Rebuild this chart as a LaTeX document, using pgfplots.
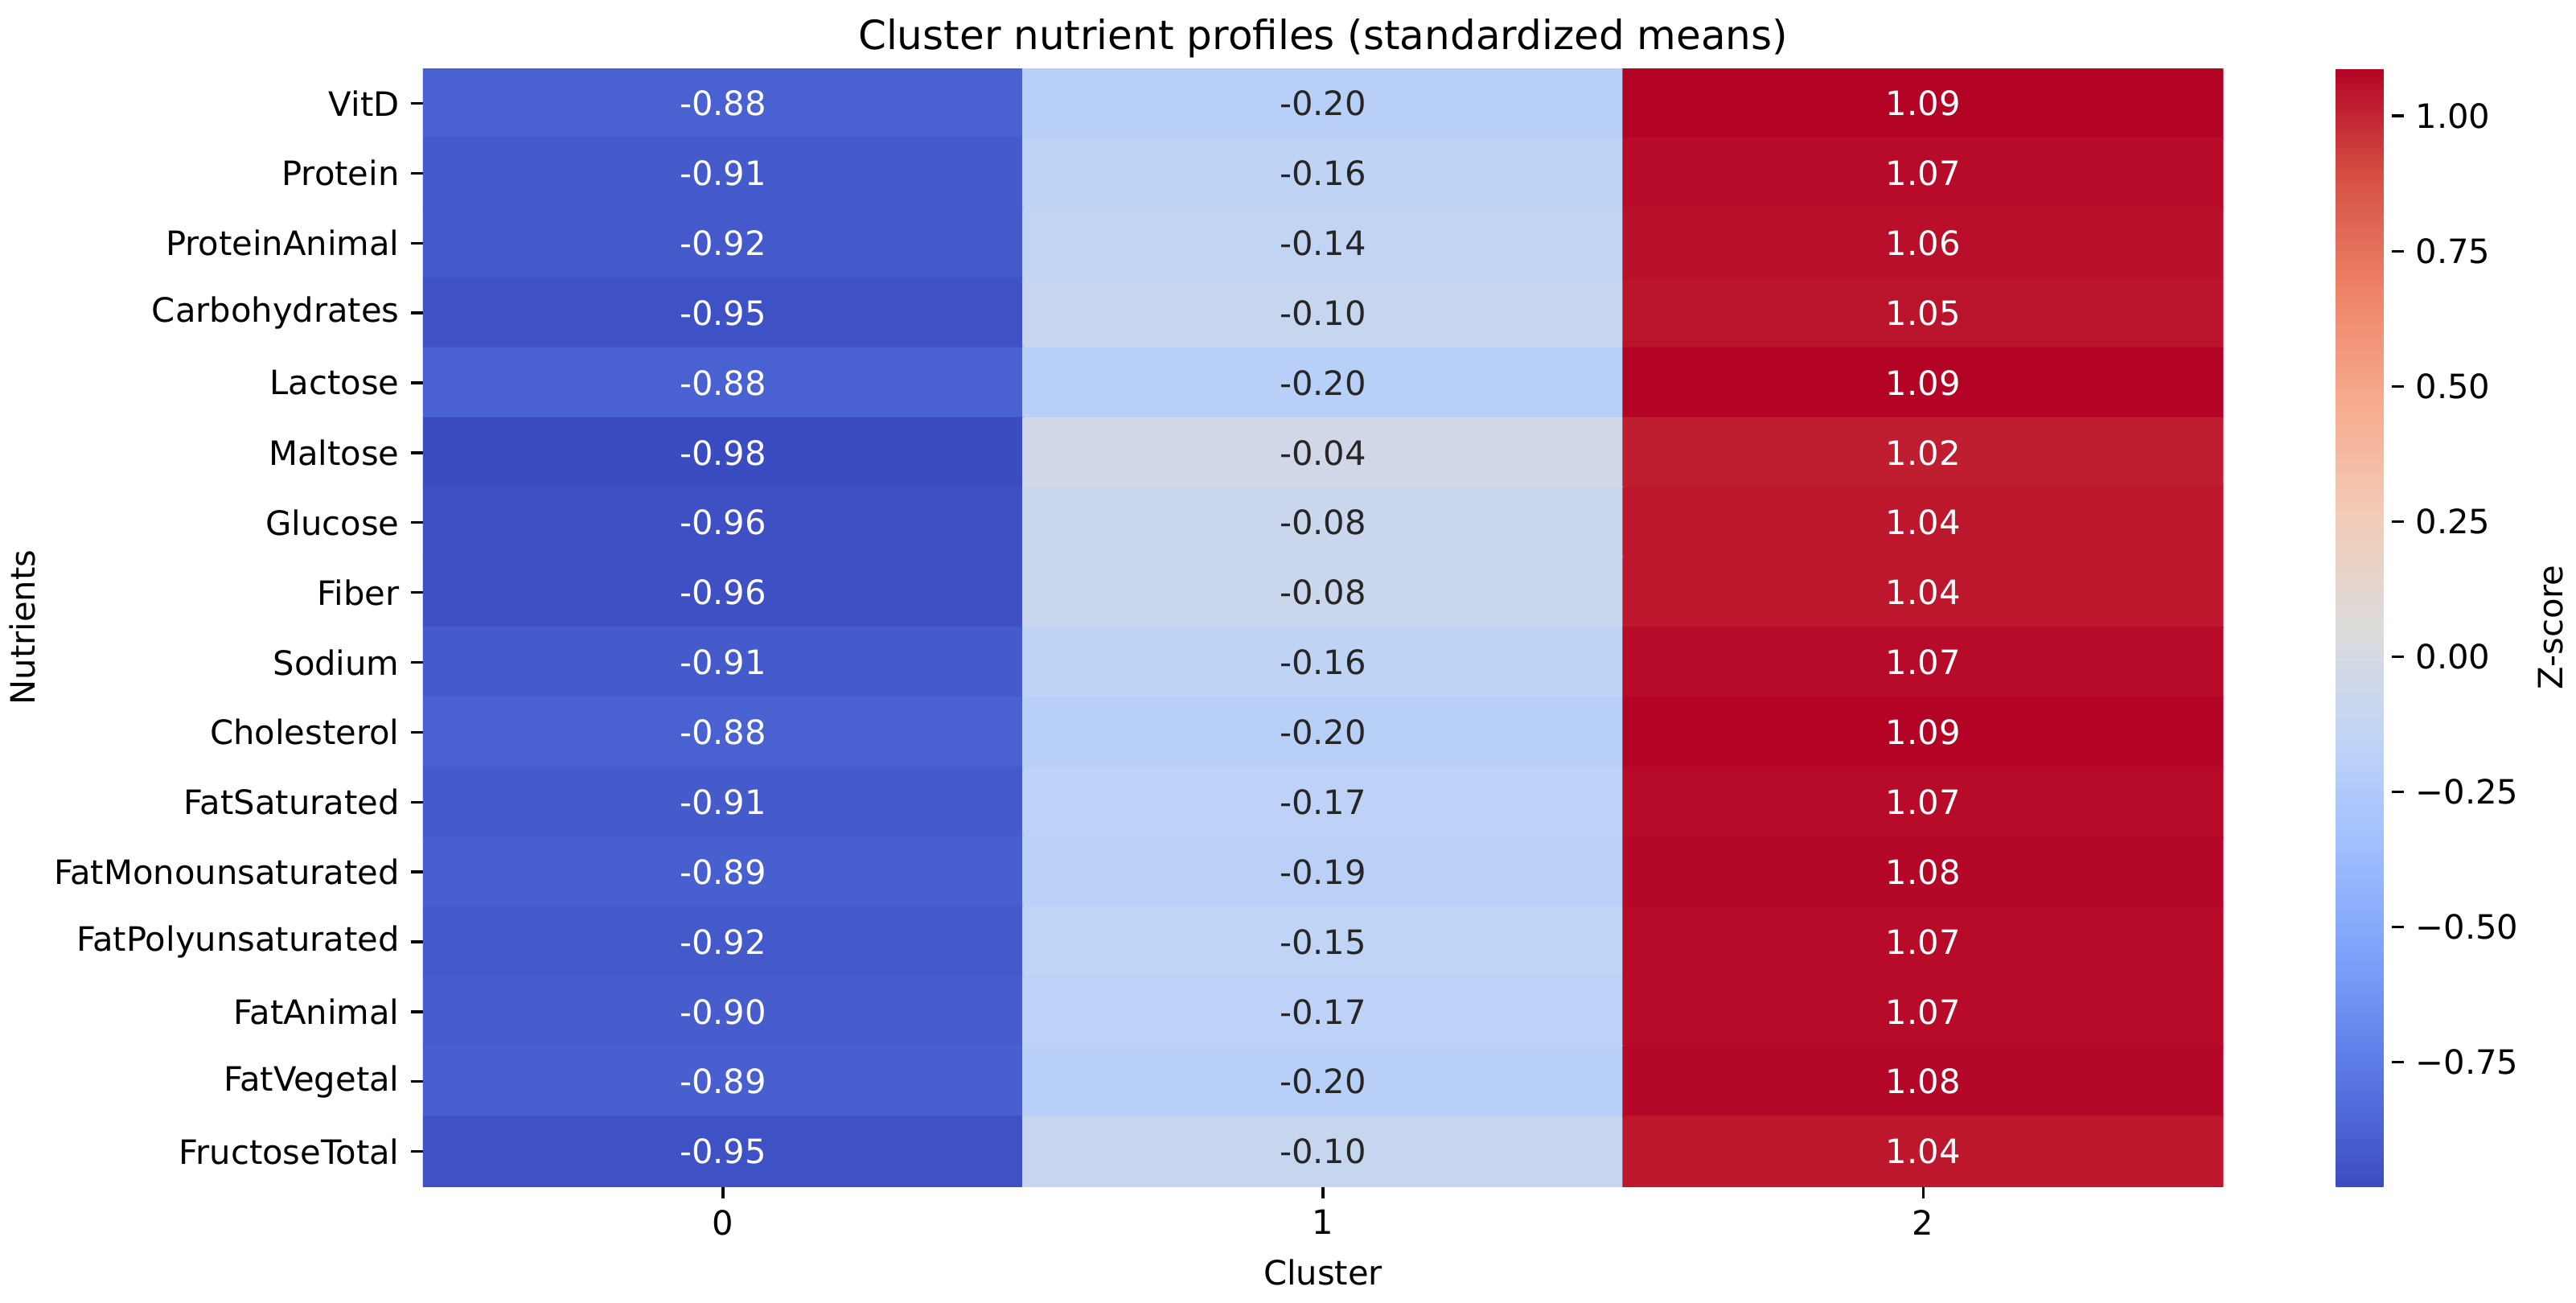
\documentclass[border=0pt]{standalone}
\usepackage{fontspec}
\setmainfont{DejaVu Sans}
\usepackage{pgfplots}
\usepackage{pgfplotstable}
\pgfplotsset{compat=1.18}

\pgfplotsset{
  every tick label/.append style={font=\fontsize{10}{12}\selectfont},
  colormap={coolwarm}{
    rgb255=(59,76,192) rgb255=(90,120,228) rgb255=(123,159,249)
    rgb255=(158,190,255) rgb255=(192,212,245) rgb255=(221,220,220)
    rgb255=(242,203,183) rgb255=(247,172,142) rgb255=(238,132,104)
    rgb255=(214,82,68) rgb255=(180,4,38)
  },
}

% rows: nutrients (0 = VitD ... 15 = FructoseTotal), cols: cluster
\pgfplotstableread{
x y z
0 0 -0.88
1 0 -0.20
2 0 1.09
0 1 -0.91
1 1 -0.16
2 1 1.07
0 2 -0.92
1 2 -0.14
2 2 1.06
0 3 -0.95
1 3 -0.10
2 3 1.05
0 4 -0.88
1 4 -0.20
2 4 1.09
0 5 -0.98
1 5 -0.04
2 5 1.02
0 6 -0.96
1 6 -0.08
2 6 1.04
0 7 -0.96
1 7 -0.08
2 7 1.04
0 8 -0.91
1 8 -0.16
2 8 1.07
0 9 -0.88
1 9 -0.20
2 9 1.09
0 10 -0.91
1 10 -0.17
2 10 1.07
0 11 -0.89
1 11 -0.19
2 11 1.08
0 12 -0.92
1 12 -0.15
2 12 1.07
0 13 -0.90
1 13 -0.17
2 13 1.07
0 14 -0.89
1 14 -0.20
2 14 1.08
0 15 -0.95
1 15 -0.10
2 15 1.04
}\heat

\begin{document}
\begin{tikzpicture}
\begin{axis}[
    name=main,
    scale only axis,
    width=537.2pt, height=333.6pt,
    xmin=-0.5, xmax=2.5, ymin=-0.5, ymax=15.5,
    y dir=reverse,
    enlargelimits=false,
    axis line style={draw=none},
    tick align=outside,
    major tick length=3.5pt,
    tick style={black, line width=0.8pt},
    xtick pos=left, ytick pos=left,
    xtick={0,1,2}, xticklabels={0,1,2},
    ytick={0,...,15},
    yticklabels={VitD,Protein,ProteinAnimal,Carbohydrates,Lactose,Maltose,Glucose,Fiber,Sodium,Cholesterol,FatSaturated,FatMonounsaturated,FatPolyunsaturated,FatAnimal,FatVegetal,FructoseTotal},
    title={Cluster nutrient profiles (standardized means)},
    every axis title shift=0pt,
    title style={at={(axis description cs:0.5,1.0168)}, anchor=base, font=\fontsize{12}{14}\selectfont},
    xlabel={Cluster},
    xlabel style={at={(axis description cs:0.5,-0.0878)}, anchor=base, font=\fontsize{10}{12}\selectfont},
    ylabel={Nutrients},
    ylabel style={at={(axis description cs:-0.2156,0.5)}, anchor=base, rotate=0, font=\fontsize{10}{12}\selectfont},
    colormap name=coolwarm,
    point meta min=-0.980, point meta max=1.088,
    colorbar,
    colorbar style={
      scale only axis,
      width=16.8pt, height=333.6pt,
      at={(parent axis.north east)}, anchor=north west, xshift=25.1pt,
      axis line style={draw=none},
      tick align=outside,
      major tick length=3.5pt,
      tick style={black, line width=0.8pt},
      ytick pos=right, yticklabel pos=right,
      ytick={-0.75,-0.5,-0.25,0,0.25,0.5,0.75,1},
      yticklabels={−0.75,−0.50,−0.25,0.00,0.25,0.50,0.75,1.00},
      ylabel={Z-score},
      every axis y label/.style={at={(axis description cs:4.024,0.5)}, anchor=base, rotate=90, font=\fontsize{10}{12}\selectfont},
    },
]
\addplot[matrix plot*, mesh/cols=3, point meta=explicit] table[x=x, y=y, meta=z] {\heat};

\addplot[draw=none, mark=none, point meta=explicit,
  restrict x to domain=-0.5:0.5,
  nodes near coords={\pgfmathprintnumber[fixed,fixed zerofill,precision=2,assume math mode=true]{\pgfplotspointmeta}},
  nodes near coords align=center,
  every node near coord/.append style={text=white, font=\fontsize{10}{12}\selectfont}]
  table[x=x, y=y, meta=z] {\heat};
\addplot[draw=none, mark=none, point meta=explicit,
  restrict x to domain=0.5:1.5,
  nodes near coords={\pgfmathprintnumber[fixed,fixed zerofill,precision=2,assume math mode=true]{\pgfplotspointmeta}},
  nodes near coords align=center,
  every node near coord/.append style={text=black!85, font=\fontsize{10}{12}\selectfont}]
  table[x=x, y=y, meta=z] {\heat};
\addplot[draw=none, mark=none, point meta=explicit,
  restrict x to domain=1.5:2.5,
  nodes near coords={\pgfmathprintnumber[fixed,fixed zerofill,precision=2,assume math mode=true]{\pgfplotspointmeta}},
  nodes near coords align=center,
  every node near coord/.append style={text=white, font=\fontsize{10}{12}\selectfont}]
  table[x=x, y=y, meta=z] {\heat};
\end{axis}
\pgfresetboundingbox
\path[use as bounding box] ([xshift=-126.2pt,yshift=-34.6pt]main.south west) rectangle ([xshift=105.3pt,yshift=20.4pt]main.north east);
\end{tikzpicture}
\end{document}
